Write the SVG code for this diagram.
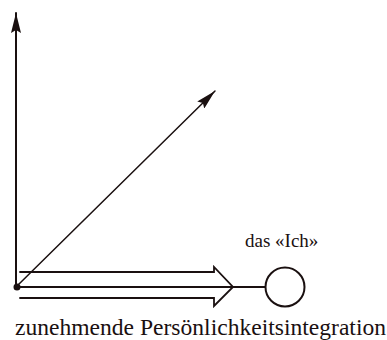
<svg xmlns="http://www.w3.org/2000/svg" width="387" height="340" viewBox="0 0 387 340">
<style>
.ln{stroke:#1a1010;fill:none;stroke-linecap:round}
.txt{font-family:"Liberation Serif","Times New Roman",serif;fill:#1a1010}
</style>
<defs>
<marker id="ah" viewBox="0 0 20 10" refX="20" refY="5" markerWidth="20" markerHeight="10" markerUnits="userSpaceOnUse" orient="auto">
<path d="M0,0 L20,5 L0,10 L3,5 Z" fill="#1a1010"/>
</marker>
</defs>
<rect width="387" height="340" fill="#fff"/>
<g id="connectors">
<line class="ln" x1="16" y1="287" x2="16" y2="13" stroke-width="2" marker-end="url(#ah)"/>
<line class="ln" x1="18" y1="285" x2="215" y2="91" stroke-width="1.5" marker-end="url(#ah)"/>
<path class="ln" d="M20,272 L214,272 L214,267 L233,287 L214,306 L214,298 L20,298" stroke-width="1.8" stroke-linejoin="miter"/>
<line class="ln" x1="16" y1="287" x2="265" y2="287" stroke-width="2"/>
<circle cx="17" cy="287" r="3.5" fill="#1a1010"/>
</g>
<g id="ich">
<circle class="ln" cx="285" cy="287" r="19.5" stroke-width="2"/>
<text class="txt" x="245" y="247" font-size="19">das «Ich»</text>
</g>
<g id="label">
<text class="txt" x="15" y="335" font-size="23" textLength="371" lengthAdjust="spacingAndGlyphs">zunehmende Persönlichkeitsintegration</text>
</g>
</svg>
